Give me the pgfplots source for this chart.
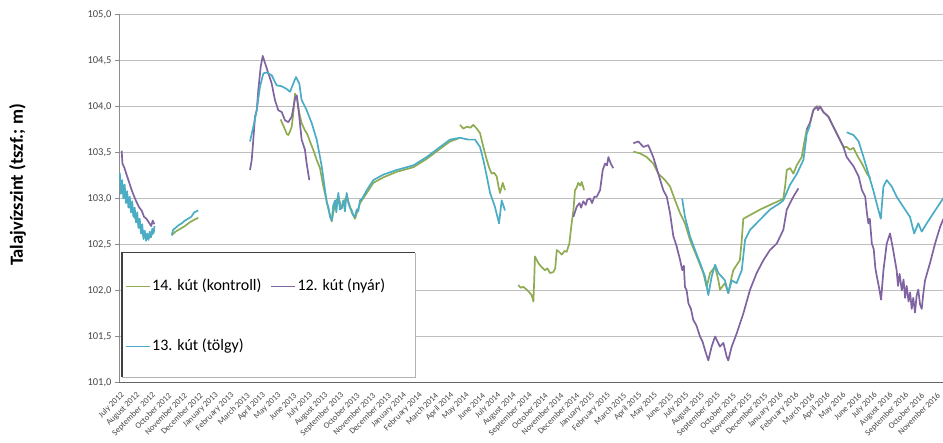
\documentclass[border=0pt]{standalone}
\usepackage{fontspec}
\setmainfont{Carlito}
\usepackage{pgfplots}
\pgfplotsset{compat=1.18}
\usepackage{pgfplotstable}
\definecolor{xgreen}{RGB}{155,187,89}
\definecolor{xpurple}{RGB}{128,100,162}
\definecolor{xcyan}{RGB}{75,172,198}
\definecolor{gridgray}{RGB}{190,190,190}
\definecolor{ticktext}{RGB}{70,70,70}

\pgfplotstableread{
m v
0.05 103.22
0.30 103.05
0.55 102.97
0.80 102.88
1.05 102.78
1.30 102.70
1.55 102.60
1.75 102.56
2.00 102.58
2.26 102.66
nan nan
3.36 102.60
3.60 102.64
3.90 102.67
4.20 102.70
4.50 102.74
4.80 102.77
5.05 102.79
nan nan
10.30 103.86
10.45 103.80
10.58 103.75
10.70 103.70
10.79 103.69
10.90 103.73
11.01 103.78
11.12 103.95
11.22 104.14
11.35 104.08
11.50 103.92
11.64 103.82
11.85 103.74
12.00 103.70
12.17 103.62
12.40 103.52
12.60 103.42
12.81 103.33
13.00 103.15
13.13 103.05
13.34 102.89
13.56 102.75
13.77 102.95
13.98 103.02
14.19 102.89
14.51 103.03
14.83 102.85
15.04 102.78
15.36 102.95
15.79 103.06
16.21 103.17
16.85 103.23
17.70 103.29
18.76 103.34
19.61 103.43
20.46 103.54
21.10 103.62
21.60 103.65
nan nan
21.73 103.80
21.95 103.76
22.16 103.78
22.40 103.77
22.58 103.80
22.80 103.76
23.01 103.71
23.22 103.56
23.44 103.42
23.60 103.33
23.75 103.27
23.90 103.28
24.07 103.24
24.20 103.12
24.28 103.06
24.46 103.17
24.60 103.09
nan nan
25.45 102.06
25.60 102.03
25.77 102.04
25.98 102.01
26.15 101.98
26.30 101.95
26.41 101.88
26.46 102.10
26.51 102.37
26.72 102.30
26.90 102.26
27.15 102.22
27.30 102.24
27.47 102.19
27.68 102.20
27.80 102.24
27.90 102.44
28.05 102.42
28.22 102.39
28.40 102.43
28.53 102.42
28.70 102.51
28.85 102.73
28.96 102.87
29.06 103.09
29.17 103.12
29.27 103.17
29.40 103.14
29.49 103.18
29.64 103.09
nan nan
32.78 103.51
33.21 103.49
33.63 103.45
34.05 103.38
34.37 103.27
34.80 103.20
35.12 103.13
35.44 102.98
35.76 102.84
36.07 102.73
36.39 102.55
36.82 102.37
37.24 102.19
37.45 102.04
37.67 102.19
37.99 102.26
38.20 102.11
38.30 102.01
38.62 102.08
38.83 101.97
39.05 102.15
39.15 102.22
39.57 102.33
39.69 102.55
39.79 102.78
40.22 102.82
40.86 102.88
41.49 102.93
42.13 102.98
42.34 103.00
42.45 103.13
42.56 103.31
42.77 103.33
42.98 103.27
43.19 103.36
43.51 103.45
43.62 103.56
43.83 103.75
44.04 103.82
44.25 103.96
44.47 104.00
44.68 104.00
44.89 103.94
45.21 103.89
45.53 103.78
45.85 103.67
46.17 103.56
46.38 103.56
46.59 103.53
46.81 103.55
47.04 103.47
47.35 103.38
47.67 103.27
47.88 103.22
}\greendata

\pgfplotstableread{
m v
0.17 103.52
0.22 103.38
0.35 103.33
0.50 103.25
0.60 103.20
0.75 103.12
0.90 103.05
1.02 103.00
1.15 102.95
1.30 102.90
1.44 102.87
1.60 102.80
1.75 102.78
1.90 102.74
2.05 102.70
2.15 102.76
2.25 102.72
nan nan
8.35 103.31
8.46 103.42
8.56 103.64
8.67 103.89
8.78 103.96
8.88 104.18
9.03 104.43
9.16 104.55
9.31 104.47
9.52 104.36
9.73 104.25
9.94 104.07
10.15 103.96
10.37 103.94
10.58 103.85
10.79 103.83
11.01 103.89
11.22 104.09
11.33 104.12
11.49 103.89
11.64 103.64
11.85 103.53
11.96 103.38
12.13 103.20
nan nan
28.96 102.80
29.17 102.91
29.35 102.95
29.45 102.90
29.59 102.97
29.75 102.93
29.85 102.99
30.02 103.00
30.15 102.95
30.30 103.02
30.45 103.02
30.66 103.09
30.83 103.31
30.98 103.38
31.10 103.36
31.19 103.45
31.34 103.38
31.50 103.33
nan nan
32.78 103.60
33.10 103.62
33.42 103.56
33.73 103.58
34.05 103.45
34.37 103.27
34.69 103.09
34.91 103.02
35.12 102.84
35.33 102.59
35.54 102.48
35.76 102.33
35.90 102.22
36.00 102.27
36.07 102.04
36.18 102.00
36.29 101.86
36.45 101.80
36.60 101.68
36.80 101.62
37.03 101.50
37.20 101.44
37.35 101.35
37.56 101.24
37.77 101.39
37.99 101.50
38.30 101.39
38.52 101.43
38.73 101.28
38.83 101.24
39.05 101.39
39.36 101.53
39.79 101.75
40.22 102.01
40.64 102.19
41.07 102.33
41.49 102.44
41.92 102.51
42.34 102.66
42.56 102.88
42.77 102.95
42.98 103.02
43.30 103.11
nan nan
43.83 103.75
44.04 103.82
44.25 103.96
44.47 104.00
44.55 103.96
44.68 104.00
44.89 103.94
45.21 103.89
45.53 103.78
45.85 103.67
46.17 103.56
46.38 103.45
46.81 103.35
47.14 103.24
47.35 103.09
47.56 103.02
47.66 102.85
47.76 102.73
47.85 102.78
47.98 102.51
48.10 102.45
48.20 102.25
48.30 102.15
48.42 102.05
48.57 101.90
48.72 102.22
48.93 102.51
49.14 102.62
49.34 102.44
49.56 102.22
49.65 102.05
49.75 102.18
49.89 102.00
50.00 102.12
50.10 101.92
50.20 102.05
50.32 101.88
50.42 101.98
50.52 101.80
50.62 101.92
50.73 101.76
50.84 101.95
50.94 102.01
51.05 101.85
51.16 101.80
51.25 101.95
51.37 102.11
51.69 102.30
52.01 102.51
52.33 102.69
52.52 102.77
52.80 102.85
}\purpledata

\pgfplotstableread{
m v
0.05 103.28
0.12 103.05
0.20 103.20
0.28 103.00
0.36 103.15
0.44 102.95
0.52 103.08
0.60 102.90
0.68 103.02
0.76 102.85
0.84 102.97
0.92 102.80
1.00 102.90
1.08 102.74
1.16 102.85
1.24 102.68
1.32 102.78
1.40 102.62
1.48 102.72
1.56 102.56
1.64 102.65
1.72 102.54
1.80 102.62
1.88 102.55
1.96 102.64
2.04 102.58
2.12 102.67
2.20 102.62
2.26 102.70
nan nan
3.36 102.60
3.45 102.66
3.60 102.68
3.80 102.71
4.00 102.73
4.20 102.76
4.40 102.78
4.60 102.80
4.80 102.85
5.05 102.87
nan nan
8.35 103.62
8.56 103.78
8.78 103.96
8.99 104.22
9.20 104.36
9.41 104.37
9.73 104.34
10.05 104.23
10.37 104.22
10.69 104.19
10.90 104.16
11.11 104.25
11.28 104.32
11.49 104.25
11.64 104.07
11.96 103.96
12.28 103.82
12.60 103.64
12.92 103.35
13.13 103.09
13.25 102.95
13.34 102.91
13.45 102.80
13.56 102.76
13.65 102.92
13.77 102.98
13.85 102.85
13.98 103.06
14.08 102.88
14.19 102.90
14.30 102.98
14.40 102.86
14.51 103.06
14.62 102.95
14.72 102.90
14.83 102.87
14.93 102.82
15.04 102.80
15.15 102.88
15.25 102.86
15.36 102.98
15.50 103.00
15.79 103.09
16.21 103.20
16.85 103.26
17.70 103.31
18.76 103.36
19.61 103.45
20.46 103.56
21.10 103.64
21.73 103.66
22.26 103.64
22.69 103.64
23.01 103.56
23.22 103.42
23.44 103.24
23.65 103.06
23.96 102.91
24.22 102.73
24.39 102.98
24.60 102.87
nan nan
35.89 103.00
36.07 102.80
36.39 102.59
36.71 102.44
37.03 102.30
37.20 102.22
37.35 102.15
37.45 102.05
37.56 101.95
37.77 102.15
37.99 102.28
38.20 102.19
38.41 102.15
38.62 102.11
38.83 101.97
39.05 102.11
39.36 102.08
39.69 102.22
39.90 102.55
40.22 102.66
40.86 102.77
41.49 102.88
42.13 102.95
42.34 102.98
42.77 103.15
43.21 103.27
43.62 103.42
43.83 103.70
44.04 103.80
nan nan
46.38 103.72
46.81 103.69
47.14 103.62
47.45 103.45
47.76 103.27
48.07 103.09
48.39 102.88
48.55 102.78
48.72 103.13
48.93 103.20
49.25 103.13
49.56 103.02
49.98 102.91
50.41 102.80
50.68 102.62
50.94 102.73
51.16 102.64
51.48 102.73
51.90 102.84
52.52 103.00
52.80 103.05
}\cyandata

\begin{document}
\begin{tikzpicture}
\useasboundingbox (0,0) rectangle (943pt,443pt);
\begin{axis}[
  at={(119pt,60.5pt)}, anchor=south west,
  scale only axis, width=831.6pt, height=368pt,
  xmin=0, xmax=53, ymin=101, ymax=105,
  axis x line*=bottom, axis y line*=left,
  x axis line style={draw=black!60, line width=1.6pt},
  y axis line style={draw=black!45, line width=0.8pt},
  unbounded coords=jump,
  ytick={101,101.5,102,102.5,103,103.5,104,104.5,105},
  ymajorgrids, grid style={draw=gridgray, line width=0.8pt},
  tick align=outside, major tick length=4pt,
  ytick style={draw=black!45, line width=0.6pt},
  xtick style={draw=none},
  /pgf/number format/assume math mode=true,
  yticklabel style={font=\fontsize{10.5}{12}\selectfont, color=ticktext,
    /pgf/number format/.cd, fixed, fixed zerofill, precision=1, use comma},
  xtick={0,...,52},
  xticklabels={July 2012, August 2012, September 2012, October 2012, November 2012, December 2012,
    January 2013, February 2013, March 2013, April 2013, May 2013, June 2013, July 2013, August 2013, September 2013, October 2013, November 2013, December 2013,
    January 2014, February 2014, March 2014, April 2014, May 2014, June 2014, July 2014, August 2014, September 2014, October 2014, November 2014, December 2014,
    January 2015, February 2015, March 2015, April 2015, May 2015, June 2015, July 2015, August 2015, September 2015, October 2015, November 2015, December 2015,
    January 2016, February 2016, March 2016, April 2016, May 2016, June 2016, July 2016, August 2016, September 2016, October 2016, November 2016},
  xticklabel style={rotate=45, anchor=east, font=\fontsize{8.5}{9.5}\selectfont, color=ticktext, inner sep=0pt, yshift=-8pt, xshift=-2.5pt},
  legend columns=2,
  legend cell align=left,
  legend image code/.code={\draw[#1, line width=1pt] (0pt,0pt) -- (24pt,0pt);},
  legend style={at={(0.0072,0.2826)}, anchor=north west, draw=none, fill=none,
    inner sep=0pt, row sep=45pt, font=\fontsize{16}{19}\selectfont,
    nodes={inner sep=0pt, text height=11.5pt, text depth=3.5pt},
    /tikz/every odd column/.append style={column sep=2pt},
    /tikz/every even column/.append style={column sep=9pt}},
]
\addplot[xgreen!92!black, line width=1.7pt, line join=round] table[x=m, y=v] {\greendata};
\addlegendentry{14. kút (kontroll)}
\addplot[xpurple, line width=1.7pt, line join=round] table[x=m, y=v] {\purpledata};
\addlegendentry{12. kút (nyár)}
\addplot[xcyan, line width=1.7pt, line join=round] table[x=m, y=v] {\cyandata};
\addlegendentry{13. kút (tölgy)}
\fill[white] (axis cs:0.19,101.06) rectangle (axis cs:18.87,102.41);
\draw[black!30, line width=0.8pt] (axis cs:0.19,101.06) -- (axis cs:18.87,101.06) -- (axis cs:18.87,102.41);
\draw[black!75, line width=1.2pt] (axis cs:0.19,101.06) -- (axis cs:0.19,102.41) -- (axis cs:18.87,102.41);
\end{axis}
\node[rotate=90, font=\bfseries\fontsize{18.5}{20}\selectfont] at (17.5pt,258pt) {Talajvízszint (tszf.; m)};
\end{tikzpicture}
\end{document}
